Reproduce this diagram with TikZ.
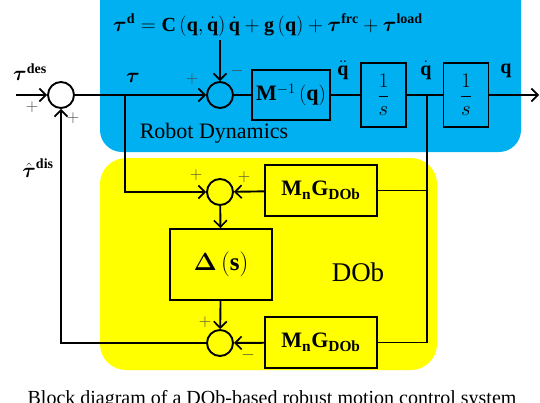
\documentclass[tikz,border=0pt]{standalone}
\usepackage{amsmath, amssymb}
\usepackage{fontspec}
\setmainfont{Liberation Serif}
\usetikzlibrary{arrows.meta}
\definecolor{robotBlue}{RGB}{0, 176, 240}
\definecolor{dobYellow}{RGB}{255, 255, 0}
\definecolor{signGray}{RGB}{70, 70, 70}
\tikzset{
  sumnode/.style={draw, circle, line width=1.9pt, minimum size=26pt, inner sep=0pt},
  blk/.style={draw, rectangle, line width=1.9pt, inner sep=0pt, font=\fontsize{22}{26}\selectfont},
  wire/.style={line width=1.9pt},
  sig/.style={wire, -{Straight Barb[length=6.5pt, width=13pt, line width=1.7pt]}},
  sgn/.style={text=signGray, font=\fontsize{19}{20}\selectfont}
}

\begin{document}
\begin{tikzpicture}[x=1pt, y=-1pt, font=\fontsize{20}{24}\selectfont]
      \useasboundingbox (0,0) rectangle (540,402);

      \fill[robotBlue, rounded corners=22pt] (100,-30) rectangle (521,152);
      \fill[dobYellow, rounded corners=26pt] (100,158) rectangle (437,370);

      \node (eq) at (268,25) {$\boldsymbol{\tau}^{\mathbf{d}} = \mathbf{C}\left(\mathbf{q},\dot{\mathbf{q}}\right)\dot{\mathbf{q}} + \mathbf{g}\left(\mathbf{q}\right) + \boldsymbol{\tau}^{\mathbf{frc}} + \boldsymbol{\tau}^{\mathbf{load}}$};

      \node[sumnode] (s1) at (61,95) {};
      \node[sumnode] (s2) at (220,95) {};
      \node[blk, minimum width=78pt, minimum height=50pt] (minv) at (291,95) {$\mathbf{M}^{-1}\left(\mathbf{q}\right)$};
      \node[blk, minimum width=45pt, minimum height=64pt] (int1) at (383.5,95) {$\dfrac{1}{s}$};
      \node[blk, minimum width=45pt, minimum height=64pt] (int2) at (466,95) {$\dfrac{1}{s}$};
      \coordinate (in) at (16,95);
      \coordinate (out) at (539,95);
      \coordinate (br1) at (125,95);
      \coordinate (br2) at (427,95);

      \node[sumnode] (s3) at (220,192) {};
      \node[blk, minimum width=112pt, minimum height=51pt] (g1) at (321,190.5) {$\mathbf{M}_{\mathbf{n}}\mathbf{G}_{\mathbf{DOb}}$};
      \node[blk, minimum width=102pt, minimum height=71pt, font=\fontsize{25}{30}\selectfont] (delta) at (221,264.5) {$\boldsymbol{\Delta}\left(\mathbf{s}\right)$};
      \node[sumnode] (s4) at (220,343) {};
      \node[blk, minimum width=112pt, minimum height=51pt] (g2) at (321,342.5) {$\mathbf{M}_{\mathbf{n}}\mathbf{G}_{\mathbf{DOb}}$};

      \draw[sig] (in) -- (s1);
      \draw[sig] (s1) -- (s2);
      \draw[sig] (s2 |- eq.south) -- (s2);
      \draw[wire] (s2) -- (minv);
      \draw[wire] (minv) -- (int1);
      \draw[wire] (int1) -- (int2);
      \draw[sig] (int2) -- (out);
      \draw[sig] (br1) |- (s3);
      \draw[wire] (br2) |- (g1.east);
      \draw[wire] (br2) |- (g2.east);
      \draw[sig] (g1) -- (s3);
      \draw[sig] (s3) -- (delta);
      \draw[sig] (delta) -- (s4);
      \draw[sig] (g2) -- (s4);
      \draw[sig] (s4) -| (s1);

      \node (taudes) at (30,72) {$\boldsymbol{\tau}^{\mathbf{des}}$};
      \node (tau) at (133,78) {$\boldsymbol{\tau}$};
      \node (qdd) at (343,70) {$\ddot{\mathbf{q}}$};
      \node (qd) at (426,70) {$\dot{\mathbf{q}}$};
      \node (q) at (506,71) {$\mathbf{q}$};
      \node (taudis) at (38,168) {$\hat{\boldsymbol{\tau}}^{\mathbf{dis}}$};

      \node[sgn] at (32,107) {$+$};
      \node[sgn] at (73,118) {$+$};
      \node[sgn] at (192,79) {$+$};
      \node[sgn] at (237,71) {$-$};
      \node[sgn] at (196,175) {$+$};
      \node[sgn] at (244,177) {$+$};
      \node[sgn] at (205,322) {$+$};
      \node[sgn] at (248,355) {$-$};

      \node[font=\fontsize{22}{26}\selectfont] (rd) at (214,133) {Robot Dynamics};
      \node[font=\fontsize{27}{32}\selectfont] (dob) at (358,272) {DOb};
      \node[anchor=north] (cap) at (272,387) {Block diagram of a DOb-based robust motion control system};
    \end{tikzpicture}
\end{document}
